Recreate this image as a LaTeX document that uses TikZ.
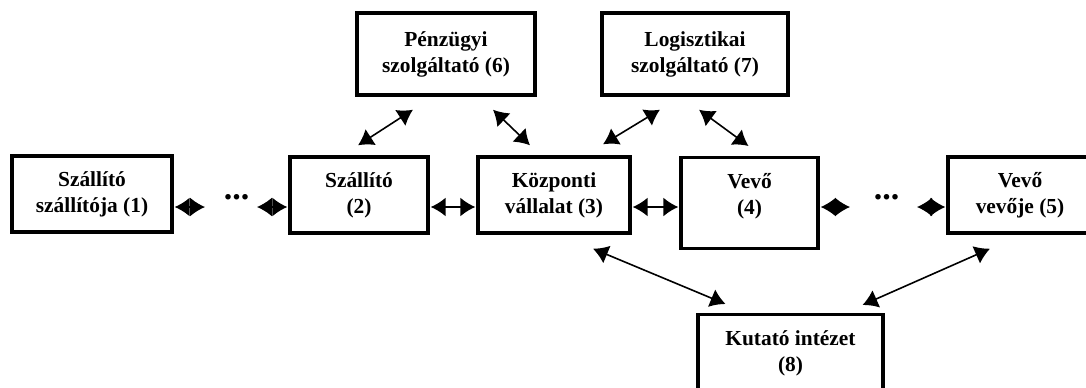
\documentclass[tikz,border=0pt]{standalone}
\usepackage{fontspec}
\setmainfont{Liberation Serif}
\usetikzlibrary{arrows.meta,calc}

\begin{document}
\begin{tikzpicture}[x=0.5pt,y=-0.5pt,>={Latex[length=7.5pt,width=9.5pt]},
  box/.style={draw,line width=1.7pt,align=center,inner sep=0pt,
    minimum height=38pt,font=\fontsize{10.7}{13}\selectfont\bfseries},
  tallbox/.style={box,minimum height=45.5pt,text depth=9.3pt},
  conn/.style={<->,line width=0.8pt},
  dots/.style={inner sep=0pt,font=\fontsize{17}{13}\selectfont\bfseries}]
\useasboundingbox (0,0) rectangle (1086,387);
\clip (0,0) rectangle (1086,387);
\node[box,minimum width=80pt] (sz1) at (92,194) {Szállító\\szállítója (1)};
\node[box,minimum width=69pt] (sz2) at (359,195) {Szállító\\(2)};
\node[box,minimum width=76pt] (kv) at (554,195) {Központi\\vállalat (3)};
\node[tallbox,minimum width=68.5pt,anchor=north] (v4) at (749.5,156) {Vevő\\(4)};
\node[box,minimum width=72pt] (vv5) at (1020,195) {Vevő\\vevője (5)};
\node[box,minimum width=89pt,minimum height=41pt] (psz) at (446,54) {Pénzügyi\\szolgáltató (6)};
\node[box,minimum width=93pt,minimum height=41pt] (lsz) at (695,54) {Logisztikai\\szolgáltató (7)};
\node[tallbox,minimum width=92.5pt,anchor=north] (ki) at (790.5,313) {Kutató intézet\\(8)};
\node[dots] (d1) at (236.5,197) {...};
\node[dots] (d2) at (886.5,197) {...};
\draw[conn] ($(sz1.east)+(1,13)$) -- ($(d1 |- sz1.east)+(-31.5,13)$);
\draw[conn] ($(d1 |- sz2.west)+(20.5,12)$) -- ($(sz2.west)+(-1,12)$);
\draw[conn] ($(sz2.east)+(1,12)$) -- ($(kv.west)+(-1,12)$);
\draw[conn] ($(kv.east)+(1,12)$) -- ($(v4.west |- kv.east)+(-1,12)$);
\draw[conn] ($(v4.east |- kv.east)+(1,12)$) -- ($(d2 |- kv.east)+(-36.5,12)$);
\draw[conn] ($(d2 |- vv5.west)+(30.5,12)$) -- ($(vv5.west)+(-1,12)$);
\draw[conn] ($(psz.south)+(-33,13)$) -- ($(sz2.north)+(-1,-10)$);
\draw[conn] ($(psz.south)+(47,13)$) -- ($(kv.north)+(-24,-10)$);
\draw[conn] ($(lsz.south)+(-35,13)$) -- ($(kv.north)+(49,-11)$);
\draw[conn] ($(lsz.south)+(4,13)$) -- ($(v4.north)+(-1,-10)$);
\draw[conn] ($(kv.south)+(39,14)$) -- ($(ki.north)+(-65,-9)$);
\draw[conn] ($(vv5.south)+(-30,14)$) -- ($(ki.north)+(72,-8)$);
\end{tikzpicture}
\end{document}
